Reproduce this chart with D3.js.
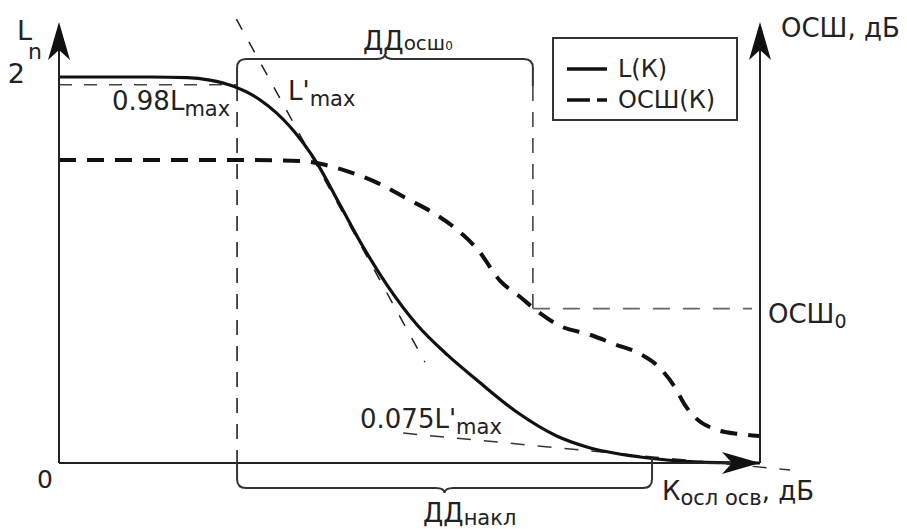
<!DOCTYPE html>
<html>
<head>
<meta charset="utf-8">
<script src="https://cdn.jsdelivr.net/npm/d3@7/dist/d3.min.js"></script>
<style>
  body { margin: 0; background: #fff; }
  text { font-family: "DejaVu Sans", sans-serif; fill: #222; }
</style>
</head>
<body>
<div id="chart"></div>
<script>
const WIDTH = 907
const HEIGHT = 529
const FONT = 26
const SUB = 21

// L(K): K in conventional units 0..100, L from 0 to L_MAX
const lK = [0, 13, 18.3, 21.5, 24.8, 28.7, 33, 36.8, 40.1, 43.4, 46.8, 51.1, 55.4, 59.6, 65.3, 71, 75.3, 82.9, 91.4, 100]
const lValues = [2, 2, 1.997, 1.984, 1.953, 1.881, 1.741, 1.554, 1.337, 1.119, 0.922, 0.715, 0.56, 0.43, 0.264, 0.14, 0.083, 0.031, 0.005, 0]

// ОСШ(K), dB
const snrK = [0, 27.2, 34.4, 37.9, 41.9, 45.8, 49.6, 53.2, 56.5, 59.8, 62.9, 65.8, 68.2, 71.5, 75.7, 79.3, 82.9, 85.7, 87.9, 89.3, 91, 93.6, 97.1, 100]
const snrValues = [31.4, 31.4, 31.3, 30.9, 30.05, 28.9, 27.4, 26, 24.35, 22.05, 18.9, 17.2, 15.75, 14.2, 13.3, 12.3, 11.3, 9.85, 7.8, 6, 4.55, 3.5, 3, 2.8]

const L_MAX = 2
const L_098 = 0.98 * L_MAX
const SNR_0 = 16
const K_START = 25.4     // left edge of both ranges
const K_SNR0 = 67.6      // right edge of ДД осш0
const K_SLOPE = 84.6     // right edge of ДД накл

// tangent L'max and the 0.075 L'max line (two points each)
const tangentK = [25.3, 52.2]
const tangentL = [2.3, 0.523]
const floorK = [49.1, 104.3]
const floorL = [0.155, -0.036]

const legendLabels = ["L(К)", "ОСШ(К)"]

const x = d3.scaleLinear().domain([0, 100]).range([59, 760])
const yL = d3.scaleLinear().domain([0, L_MAX]).range([463, 77])
const yS = d3.scaleLinear().domain([0, 40]).range([463, 77])
const AXIS_TOP = 22

const svg = d3.select("#chart")
              .append("svg")
              .attr("width", WIDTH)
              .attr("height", HEIGHT)

function dashed(x1, y1, x2, y2, dash, color, width) {
  svg.append("line")
     .attr("x1", x1).attr("y1", y1)
     .attr("x2", x2).attr("y2", y2)
     .attr("stroke", color)
     .attr("stroke-width", width)
     .attr("stroke-dasharray", dash)
}

function bracePath(x1, x2, yLine, yLeg1, yLeg2, dir) {
  const r = 9, mid = (x1 + x2) / 2, tip = 5
  const p = d3.path()
  p.moveTo(x1, yLeg1)
  p.lineTo(x1, yLine - dir * r)
  p.quadraticCurveTo(x1, yLine, x1 + r, yLine)
  p.lineTo(mid - r, yLine)
  p.quadraticCurveTo(mid, yLine, mid, yLine + dir * tip)
  p.quadraticCurveTo(mid, yLine, mid + r, yLine)
  p.lineTo(x2 - r, yLine)
  p.quadraticCurveTo(x2, yLine, x2, yLine - dir * r)
  p.lineTo(x2, yLeg2)
  return p.toString()
}

function label(px, py, main, sub, opts = {}) {
  const t = svg.append("text")
               .attr("x", px)
               .attr("y", py)
               .style("font-size", (opts.size || FONT) + "px")
  t.append("tspan").text(main)
  if (sub) {
    t.append("tspan")
     .attr("dy", opts.subDy === undefined ? 6 : opts.subDy)
     .style("font-size", (opts.subSize || SUB) + "px")
     .text(sub)
  }
  if (opts.tail) {
    t.append("tspan")
     .attr("dy", -(opts.subDy || 6))
     .text(opts.tail)
  }
  return t
}

function arrowHead(tx, ty, dir) {
  const len = 38, half = 11, notch = 28
  const pts = dir === "up"
    ? [[tx, ty], [tx - half, ty + len], [tx, ty + notch], [tx + half, ty + len]]
    : [[tx, ty], [tx - len, ty - half], [tx - notch, ty], [tx - len, ty + half]]
  svg.append("path")
     .attr("d", d3.line()(pts) + "Z")
     .attr("fill", "#111")
}

// helper lines
dashed(x(0), yL(L_098), x(K_START), yL(L_098), "13,12", "#444", 1.6)
dashed(x(K_START), 86, x(K_START), yL(0), "15,11", "#222", 1.6)
dashed(x(K_SNR0), 86, x(K_SNR0), yS(SNR_0), "15,11", "#444", 1.6)
dashed(x(K_SNR0), yS(SNR_0), x(100) - 8, yS(SNR_0), "17,13", "#666", 1.6)
dashed(x(tangentK[0]), yL(tangentL[0]), x(tangentK[1]), yL(tangentL[1]), "12,14", "#222", 1.5)
dashed(x(floorK[0]), yL(floorL[0]), x(floorK[1]), yL(floorL[1]), "14,13", "#333", 1.5)

// curves
const lLine = d3.line()
                .x(d => x(d[0]))
                .y(d => yL(d[1]))
                .curve(d3.curveMonotoneX)
const snrLine = d3.line()
                  .x(d => x(d[0]))
                  .y(d => yS(d[1]))
                  .curve(d3.curveMonotoneX)

svg.append("path")
   .datum(d3.zip(snrK, snrValues))
   .attr("fill", "none")
   .attr("stroke", "#111")
   .attr("stroke-width", 4)
   .attr("stroke-dasharray", "17,11")
   .attr("d", snrLine)

svg.append("path")
   .datum(d3.zip(lK, lValues))
   .attr("fill", "none")
   .attr("stroke", "#111")
   .attr("stroke-width", 3.2)
   .attr("d", lLine)

// axes
const axisStroke = "#222"
svg.append("line")
   .attr("x1", x(0)).attr("y1", yL(0))
   .attr("x2", x(0)).attr("y2", AXIS_TOP + 20)
   .attr("stroke", axisStroke).attr("stroke-width", 2)
svg.append("line")
   .attr("x1", x(100)).attr("y1", yL(0))
   .attr("x2", x(100)).attr("y2", AXIS_TOP + 20)
   .attr("stroke", axisStroke).attr("stroke-width", 2)
svg.append("line")
   .attr("x1", x(0)).attr("y1", yL(0))
   .attr("x2", x(100) - 20).attr("y2", yL(0))
   .attr("stroke", axisStroke).attr("stroke-width", 2)
arrowHead(x(0), AXIS_TOP, "up")
arrowHead(x(100), AXIS_TOP, "up")
arrowHead(x(100), yL(0), "right")

const yAxis = svg.append("g")
                 .attr("transform", `translate(${x(0)}, 0)`)
                 .call(d3.axisLeft(yL)
                         .tickValues([L_MAX])
                         .tickFormat(d3.format("d"))
                         .tickSize(0)
                         .tickPadding(34))
yAxis.select(".domain").remove()
yAxis.selectAll("text")
     .attr("dy", "0.22em")
     .style("font-size", "27px")
     .style("font-family", "DejaVu Sans, sans-serif")
     .attr("fill", "#222")

svg.append("text")
   .attr("x", x(0) - 14)
   .attr("y", 488)
   .attr("text-anchor", "middle")
   .style("font-size", "25px")
   .text("0")

// braces
svg.append("path")
   .attr("d", bracePath(x(K_START), x(K_SNR0), 59, 86, 86, -1))
   .attr("fill", "none").attr("stroke", "#333").attr("stroke-width", 2)
svg.append("path")
   .attr("d", bracePath(x(K_START), x(K_SLOPE), 488, yL(0), yL(0) - 5, 1))
   .attr("fill", "none").attr("stroke", "#333").attr("stroke-width", 2)

// labels
label(17, 40, "L", null, { size: 27 })
label(28, 59, "n", null, { size: 22 })
label(112, 110, "0.98L", "max")
label(288, 100, "L'", "max")
const ddTop = label(363, 50, "ДД", "осш", { subSize: 20, subDy: 0 })
ddTop.append("tspan").attr("dy", 0).style("font-size", "12px").text("0")
label(360, 428, "0.075L'", "max")
label(781, 37, "ОСШ, дБ", null, { size: 26 })
label(768, 323, "ОСШ", "0", { subSize: 19, subDy: 5 })
label(662, 500, "К", "осл осв", { tail: ", дБ", subDy: 5 })
label(423, 522, "ДД", "накл", { subDy: 3 })

// legend
svg.append("rect")
   .attr("x", 553).attr("y", 38)
   .attr("width", 184).attr("height", 82)
   .attr("fill", "#fff")
   .attr("stroke", "#333")
   .attr("stroke-width", 2)

const legendDash = [null, "23,7,10,60"]
legendLabels.forEach((name, i) => {
  const ly = 69 + i * 31
  svg.append("line")
     .attr("x1", 567).attr("x2", 607)
     .attr("y1", ly).attr("y2", ly)
     .attr("stroke", "#111")
     .attr("stroke-width", 3.5)
     .attr("stroke-dasharray", legendDash[i])
  svg.append("text")
     .attr("x", 618)
     .attr("y", ly + 8)
     .style("font-size", "24px")
     .text(name)
})
</script>
</body>
</html>
